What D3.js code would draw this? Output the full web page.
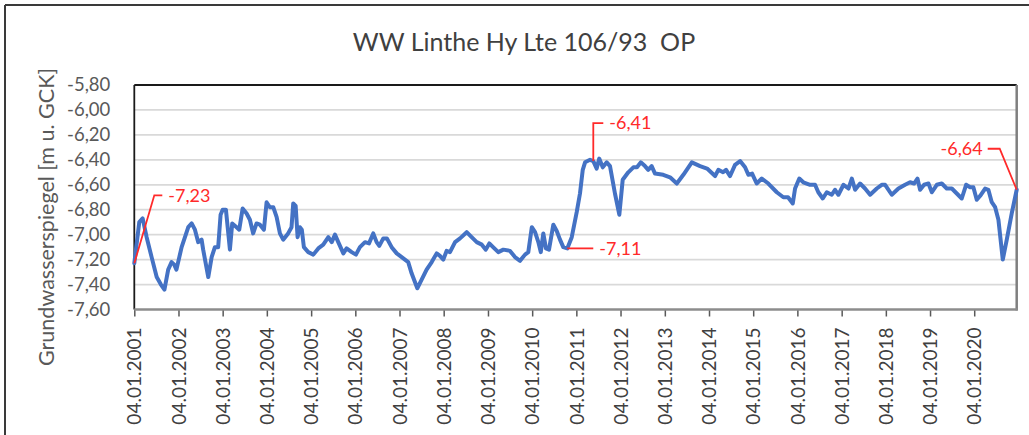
<!DOCTYPE html>
<html>
<head>
<meta charset="utf-8">
<script src="https://cdn.jsdelivr.net/npm/d3@7"></script>
<style>
  body { margin: 0; background: #fff; }
  svg { display: block; font-family: Lato, "Open Sans", sans-serif; }
</style>
</head>
<body>
<svg width="1029" height="435"></svg>
<script>
// Groundwater level readings (date, level in m u. GCK)
const dates = [
  "2001-01-04","2001-02-14","2001-03-14","2001-04-16","2001-05-27","2001-07-08","2001-08-12","2001-09-10","2001-10-11","2001-11-08","2001-11-30","2001-12-18",
  "2002-01-30","2002-03-26","2002-04-23","2002-05-20","2002-06-16","2002-07-14","2002-07-27","2002-09-07","2002-10-05","2002-11-01","2002-11-28","2002-12-18",
  "2003-01-04","2003-01-31","2003-03-05","2003-03-24","2003-04-29","2003-05-21","2003-06-18","2003-07-21","2003-08-17","2003-09-13","2003-10-11","2003-11-08","2003-12-11",
  "2004-01-02","2004-01-29","2004-02-26","2004-03-25","2004-04-21","2004-05-18","2004-06-28","2004-07-26","2004-08-09","2004-08-29","2004-09-14","2004-10-03","2004-10-19","2004-11-05","2004-12-11",
  "2005-01-22","2005-03-04","2005-04-14","2005-05-26","2005-06-23","2005-07-20","2005-08-16","2005-09-27","2005-10-24","2005-12-05",
  "2006-01-09","2006-02-11","2006-03-25","2006-04-27","2006-06-01","2006-06-29","2006-07-21","2006-08-23","2006-09-22","2006-10-31","2006-12-12",
  "2007-01-22","2007-03-17","2007-04-14","2007-05-31","2007-07-06","2007-08-16","2007-09-27","2007-11-07","2007-12-04",
  "2008-01-01","2008-01-28","2008-02-25","2008-04-07","2008-05-18","2008-07-12","2008-08-22","2008-10-03","2008-11-14","2008-12-17",
  "2009-01-15","2009-02-15","2009-03-30","2009-05-11","2009-07-05","2009-08-15","2009-09-26","2009-11-06","2009-12-03",
  "2010-01-01","2010-01-28","2010-02-24","2010-03-16","2010-04-06","2010-04-28","2010-05-23","2010-06-28","2010-07-26","2010-08-22","2010-09-18","2010-10-21","2010-11-27",
  "2011-01-07","2011-02-03","2011-02-26","2011-03-17","2011-04-27","2011-05-24","2011-06-21","2011-07-12","2011-08-10","2011-09-12","2011-10-09","2011-11-19","2011-12-25",
  "2012-01-22","2012-03-08","2012-04-19","2012-05-19","2012-06-19","2012-07-24","2012-08-20","2012-09-17","2012-10-15","2012-12-22",
  "2013-02-16","2013-04-13","2013-06-06","2013-08-15","2013-10-22","2013-12-19",
  "2014-02-23","2014-03-22","2014-04-30","2014-05-25","2014-06-27","2014-08-07","2014-09-18","2014-10-29","2014-11-25","2014-12-26",
  "2015-02-02","2015-03-16","2015-05-09","2015-07-18","2015-09-10","2015-10-19","2015-11-27","2015-12-16",
  "2016-01-20","2016-02-22","2016-04-18","2016-05-29","2016-06-25","2016-08-01","2016-09-03","2016-10-14","2016-11-10","2016-12-08",
  "2017-01-19","2017-03-01","2017-03-29","2017-04-25","2017-06-05","2017-07-16","2017-08-27","2017-10-21","2017-12-01","2017-12-29",
  "2018-02-22","2018-04-18","2018-06-12","2018-07-23","2018-08-25","2018-09-22","2018-10-14","2018-11-16","2018-12-22",
  "2019-01-19","2019-03-01","2019-04-11","2019-05-22","2019-07-03","2019-08-13","2019-09-23","2019-10-29","2019-12-01","2019-12-28",
  "2020-01-25","2020-02-21","2020-04-03","2020-04-30","2020-05-28","2020-06-25","2020-07-22","2020-08-27","2020-09-29","2020-11-09","2020-12-20"
];
const levels = [
  -7.23,-6.90,-6.87,-7.02,-7.18,-7.34,-7.40,-7.44,-7.28,-7.22,-7.24,-7.28,
  -7.10,-6.94,-6.91,-6.96,-7.06,-7.04,-7.12,-7.34,-7.18,-7.10,-7.10,-6.84,
  -6.80,-6.80,-7.12,-6.91,-6.94,-6.96,-6.79,-6.83,-6.88,-6.99,-6.91,-6.92,-6.96,
  -6.74,-6.78,-6.78,-6.86,-6.99,-7.04,-6.99,-6.94,-6.75,-6.77,-7.02,-6.94,-6.96,-7.10,-7.14,
  -7.16,-7.11,-7.08,-7.02,-7.06,-7.00,-7.06,-7.15,-7.11,-7.14,
  -7.16,-7.10,-7.06,-7.07,-6.99,-7.06,-7.09,-7.03,-7.03,-7.10,-7.15,
  -7.18,-7.22,-7.31,-7.43,-7.36,-7.28,-7.22,-7.15,-7.17,
  -7.20,-7.13,-7.14,-7.06,-7.03,-6.98,-7.02,-7.06,-7.08,-7.12,
  -7.07,-7.10,-7.14,-7.12,-7.13,-7.18,-7.21,-7.16,-7.14,
  -6.94,-6.98,-7.06,-7.14,-6.99,-7.11,-7.12,-6.92,-6.97,-7.04,-7.10,-7.11,-7.02,
  -6.82,-6.67,-6.48,-6.42,-6.40,-6.41,-6.47,-6.39,-6.46,-6.42,-6.45,-6.67,-6.84,
  -6.56,-6.50,-6.46,-6.46,-6.42,-6.45,-6.48,-6.45,-6.51,-6.52,
  -6.54,-6.59,-6.52,-6.42,-6.45,-6.47,
  -6.53,-6.48,-6.50,-6.48,-6.53,-6.44,-6.41,-6.46,-6.52,-6.51,
  -6.59,-6.55,-6.59,-6.66,-6.70,-6.70,-6.75,-6.63,
  -6.55,-6.58,-6.60,-6.60,-6.66,-6.71,-6.66,-6.68,-6.64,-6.68,
  -6.60,-6.63,-6.55,-6.64,-6.59,-6.63,-6.68,-6.63,-6.60,-6.60,
  -6.68,-6.63,-6.60,-6.58,-6.59,-6.55,-6.64,-6.60,-6.59,
  -6.66,-6.60,-6.59,-6.63,-6.63,-6.67,-6.71,-6.60,-6.62,-6.62,
  -6.72,-6.69,-6.63,-6.64,-6.74,-6.78,-6.88,-7.20,-7.04,-6.83,-6.64
];

// Axis ticks
const yTicks = [-7.6,-7.4,-7.2,-7.0,-6.8,-6.6,-6.4,-6.2,-6.0,-5.8];
const tickYears = d3.range(2001, 2021);

// Labelled readings
const annoDates  = ["2001-01-04","2011-05-24","2010-10-21","2020-12-20"];
const annoLevels = [-7.23, -6.41, -7.11, -6.64];
const annoTexts  = ["-7,23", "-6,41", "-7,11", "-6,64"];

const title = "WW Linthe Hy Lte 106/93  OP";
const yTitle = "Grundwasserspiegel [m u. GCK]";

main = () => {
    let svg = d3.select('svg');
    const parse = d3.timeParse("%Y-%m-%d");
    // German decimal comma, plain hyphen as minus
    const comma = v => v.toFixed(2).replace(".", ",");

    // plot box
    let left = 134.3, right = 1016.7, top = 85, bottom = 309.5;

    let data = dates.map((d, i) => ({date: parse(d), value: levels[i]}));

    let x = d3.scaleTime()
        .domain([parse("2001-01-04"), parse("2020-12-20")])
        .range([left, right]);
    let y = d3.scaleLinear()
        .domain([-7.6, -5.8])
        .range([bottom, top]);

    // outer chart frame (only top and left edges are visible)
    svg.append('line').attr('x1', 5).attr('x2', 1029).attr('y1', 5).attr('y2', 5)
        .attr('stroke', '#3a3a3a').attr('stroke-width', 2);
    svg.append('line').attr('x1', 5).attr('x2', 5).attr('y1', 5).attr('y2', 435)
        .attr('stroke', '#3a3a3a').attr('stroke-width', 2);

    // title
    svg.append('text')
        .attr('x', 524).attr('y', 51)
        .attr('text-anchor', 'middle')
        .attr('font-size', 25)
        .attr('fill', '#404040')
        .style('white-space', 'pre')
        .text(title);

    // gridlines
    svg.append('g').selectAll('line')
        .data(yTicks.slice(1, -1))
        .enter().append('line')
            .attr('x1', left).attr('x2', right)
            .attr('y1', d => y(d)).attr('y2', d => y(d))
            .attr('stroke', '#d9d9d9').attr('stroke-width', 1.8);

    // y axis labels
    let yAxis = svg.append('g')
        .attr('transform', `translate(${left},0)`)
        .call(d3.axisLeft(y).tickValues(yTicks).tickSize(0).tickPadding(24).tickFormat(comma));
    yAxis.select('.domain').remove();
    yAxis.selectAll('text').attr('font-size', 18.5).attr('fill', '#595959').attr('font-family', 'Lato, sans-serif');

    // y axis title
    svg.append('text')
        .attr('transform', 'translate(54,217) rotate(-90)')
        .attr('text-anchor', 'middle')
        .attr('font-size', 21.5)
        .attr('fill', '#595959')
        .text(yTitle);

    // x axis
    let xAxis = svg.append('g')
        .attr('transform', `translate(0,${bottom})`)
        .call(d3.axisBottom(x)
            .tickValues(tickYears.map(yr => new Date(yr, 0, 4)))
            .tickSize(7)
            .tickFormat(d3.timeFormat("%d.%m.%Y")));
    xAxis.select('.domain').remove();
    xAxis.selectAll('.tick line').attr('stroke', '#595959').attr('stroke-width', 1.5);
    xAxis.selectAll('text')
        .attr('transform', 'rotate(-90)')
        .attr('text-anchor', 'end')
        .attr('x', -18).attr('y', 0).attr('dy', '0.35em')
        .attr('font-size', 19).attr('fill', '#404040').attr('font-family', 'Lato, sans-serif');

    // plot frame
    svg.append('line').attr('x1', left).attr('x2', right).attr('y1', top).attr('y2', top)
        .attr('stroke', '#1a1a1a').attr('stroke-width', 1.8);
    svg.append('line').attr('x1', left).attr('x2', left).attr('y1', top).attr('y2', bottom)
        .attr('stroke', '#1a1a1a').attr('stroke-width', 1.8);
    svg.append('line').attr('x1', right).attr('x2', right).attr('y1', top).attr('y2', bottom + 1)
        .attr('stroke', '#7f7f7f').attr('stroke-width', 2.5);
    svg.append('line').attr('x1', left).attr('x2', right + 1).attr('y1', bottom).attr('y2', bottom)
        .attr('stroke', '#8c8c8c').attr('stroke-width', 2.5);

    // series
    let line = d3.line().x(d => x(d.date)).y(d => y(d.value));
    svg.append('path')
        .datum(data)
        .attr('d', line)
        .attr('fill', 'none')
        .attr('stroke', '#4472c4')
        .attr('stroke-width', 4)
        .attr('stroke-linejoin', 'round')
        .attr('stroke-linecap', 'round');

    // leader lines: [elbow dx, elbow dy, tail dx, text gap]
    const leaders = [[20, -68, 8, 6], [0, -38, 10, 6], [0, 0, 26, 6], [-17, -41, -12, -5]];
    annoDates.forEach((d, i) => {
        let px = x(parse(d)), py = y(annoLevels[i]);
        let [ex, ey, tx, gap] = leaders[i];
        let ex2 = px + ex + tx;
        svg.append('path')
            .attr('d', `M${px},${py}L${px + ex},${py + ey}L${ex2},${py + ey}`)
            .attr('fill', 'none').attr('stroke', '#ff2a2a').attr('stroke-width', 1.8);
        svg.append('text')
            .attr('x', ex2 + gap).attr('y', py + ey).attr('dy', '0.35em')
            .attr('text-anchor', tx < 0 ? 'end' : 'start')
            .attr('font-size', 18).attr('fill', '#ff2a2a')
            .text(annoTexts[i]);
    });
}

main();
</script>
</body>
</html>
